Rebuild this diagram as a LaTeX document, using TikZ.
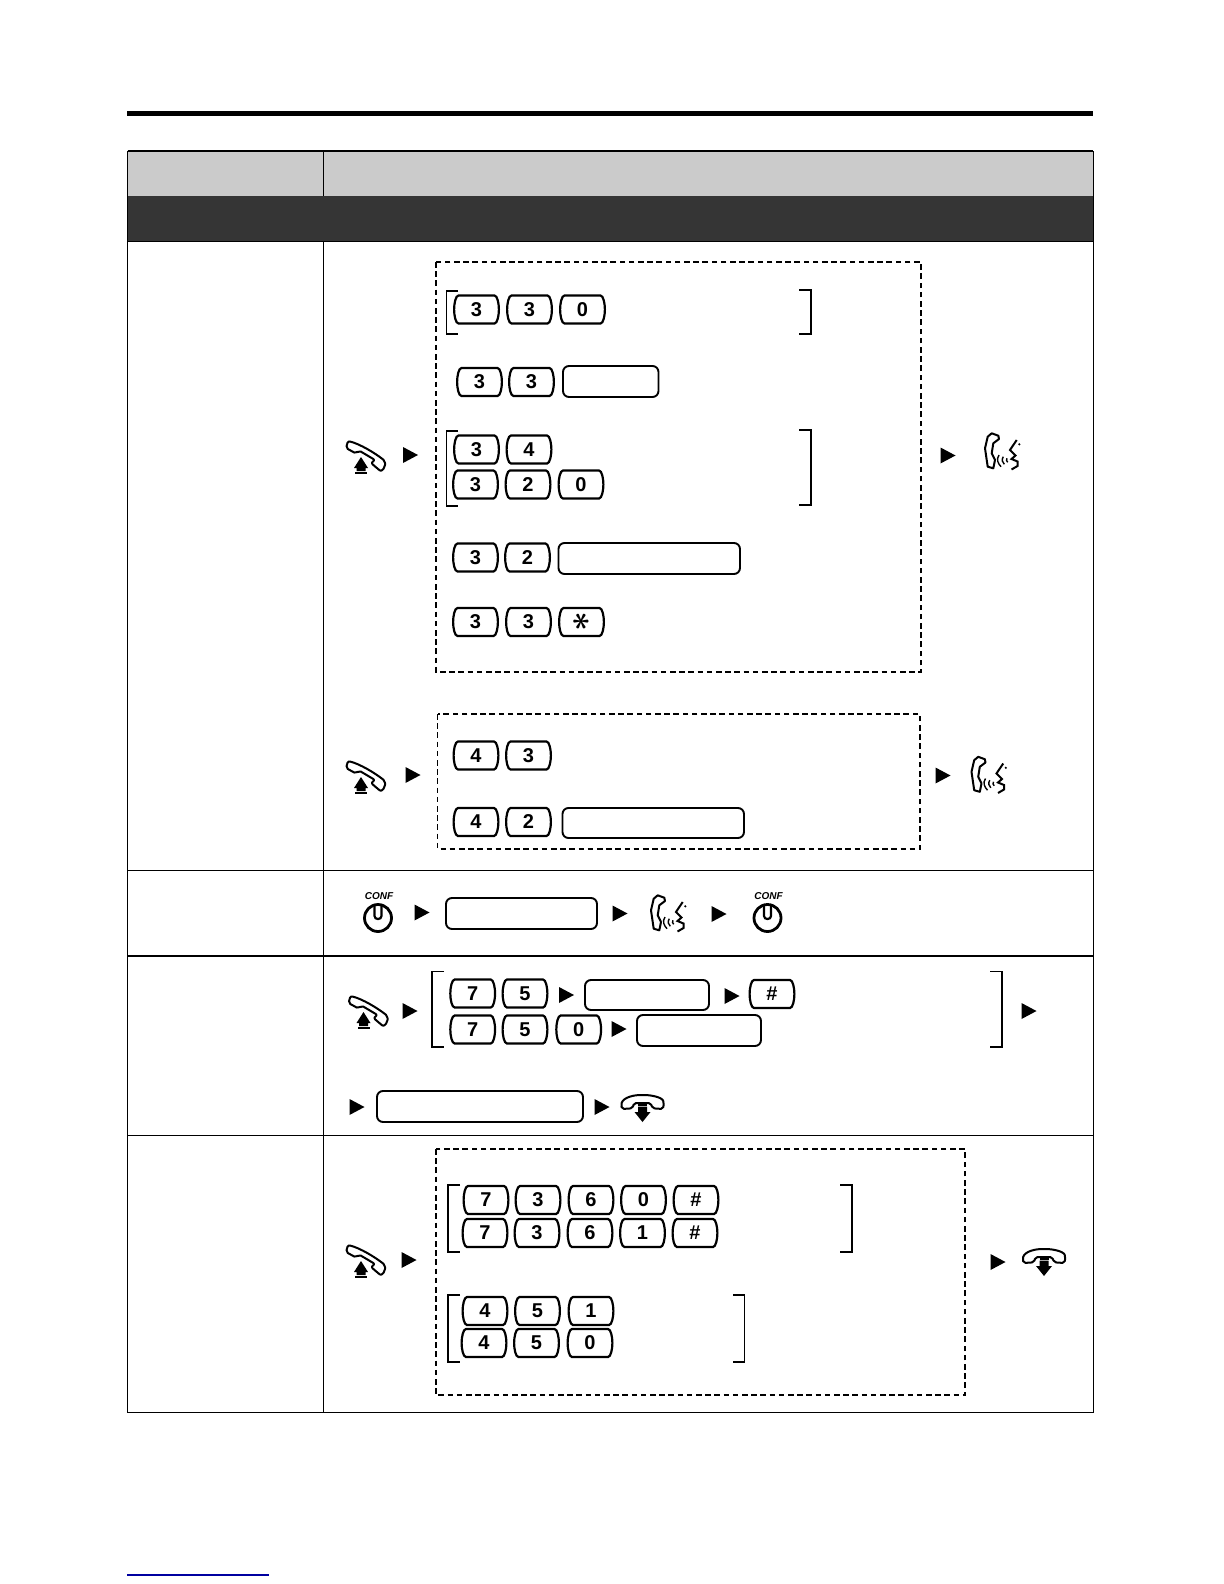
\documentclass[tikz,border=0pt]{standalone}
\usepackage{fontspec}
\setmainfont{Liberation Sans}
\usepackage{graphicx}
\usepackage{xcolor}
\definecolor{headgrey}{HTML}{CBCBCB}
\definecolor{bandgrey}{HTML}{353535}
\definecolor{linkblue}{HTML}{0000A0}
\newcommand{\keycap}[4]{%
  \node[keylabel] (#1) at (#2,#3) {#4};
  \draw[keyline] ([xshift=-9pt,yshift=7pt]#1.center) -- ([xshift=9pt,yshift=7pt]#1.center)
    .. controls ([xshift=10.4pt,yshift=7pt]#1.center) and ([xshift=11.2pt,yshift=3pt]#1.center) .. ([xshift=11.2pt]#1.center)
    .. controls ([xshift=11.2pt,yshift=-3pt]#1.center) and ([xshift=10.4pt,yshift=-7pt]#1.center) .. ([xshift=9pt,yshift=-7pt]#1.center)
    -- ([xshift=-9pt,yshift=-7pt]#1.center)
    .. controls ([xshift=-10.4pt,yshift=-7pt]#1.center) and ([xshift=-11.2pt,yshift=-3pt]#1.center) .. ([xshift=-11.2pt]#1.center)
    .. controls ([xshift=-11.2pt,yshift=3pt]#1.center) and ([xshift=-10.4pt,yshift=7pt]#1.center) .. cycle;}
\newcommand{\starmark}{\rotatebox{90}{\fontsize{17}{17}\selectfont\boldmath$\ast$}}
\begin{document}
\begin{tikzpicture}[x=.5pt,y=-.5pt,
  keyline/.style={line width=1.1pt},
  keylabel/.style={inner sep=0pt,font=\fontsize{10}{10}\selectfont\bfseries},
  slot/.style={line width=.95pt,rounded corners=3pt},
  bracket/.style={line width=.55pt},
  rule/.style={line width=.5pt},
  dashbox/.style={line width=.8pt,dash pattern=on 2.8pt off 1.8pt},
  go/.pic={\fill (-7.5,-8) -- (7.5,0) -- (-7.5,8) -- cycle;},
  lifted/.pic={
    \draw[line width=1pt,rounded corners=1pt,line join=round] (-17,-16) .. controls (-5,-13) and (10,-4) .. (20,4) -- (20,10) -- (16,14.5) -- (6,6) -- (10,3) -- (-6,-6.5) -- (-9,-3.5) -- (-19,-9) -- cycle;
    \fill (-4,0) -- (3,11) -- (0.5,11) -- (0.5,14) -- (-8.5,14) -- (-8.5,11) -- (-11,11) -- cycle;
    \fill (-10,15) rectangle (2,16.5);},
  hungup/.pic={
    \draw[line width=1pt,rounded corners=1pt,line join=round] (-21.5,-2) .. controls (-19,-10) and (-8,-12) .. (0,-12) .. controls (8,-12) and (19,-10) .. (21.5,-4.5) -- (20.5,2) -- (10,1.3) -- (8.2,-4) -- (-8.5,-4) -- (-10,1.3) -- (-20.5,2) -- cycle;
    \fill (-4.5,-3) rectangle (4.5,-1.5);
    \fill (-8,5) -- (-4.5,5) -- (-4.5,-.5) -- (4.5,-.5) -- (4.5,5) -- (8,5) -- (0,15) -- cycle;},
  talking/.pic={
    \draw[line width=1pt,line join=round] (-10.8,-18.2) -- (-4.2,-15.8) -- (-3.5,-12.5) -- (-9.2,-8.2) -- (-10.8,1.8) -- (-7.5,8.5) -- (-9.2,16.8) -- (-14.8,15.2) -- (-17.5,-3.2) -- (-14.8,-14.8) -- cycle;
    \draw[line width=.7pt] (-3.5,3.5) .. controls (-6.5,8) and (-4.5,12) .. (-1.5,15.2);
    \draw[line width=.7pt] (0.8,5.2) .. controls (-1,8) and (-0.5,11) .. (1.8,12.8);
    \draw[line width=.7pt] (4.5,6.8) .. controls (3.6,8) and (3.8,10) .. (5.2,10.8);
    \draw[line width=1pt] (14.2,-11.5) -- (7.5,-1.5) -- (13,4) -- (9,7.5) -- (15,10) -- (15,14.5) -- (9,18);
    \fill (16.8,-7.2) circle (1.2);},
  confbutton/.pic={
    \draw[line width=1.4pt] (0,0) circle (13.5);
    \draw[line width=1.1pt] (-3.5,-13.5) -- (-3.5,-2) .. controls (-3.5,2) and (3.5,2) .. (3.5,-2) -- (3.5,-13.5);
    \node[font=\fontsize{5}{5}\selectfont\bfseries\itshape,inner sep=0pt] (-conftext) at (1,-21.5) {CONF};}]
\useasboundingbox (0,0) rectangle (1224,1584);
\fill[white] (0,0) rectangle (1224,1584);
% ---- table grid
\def\xa{127.5} \def\xb{323} \def\xc{1093}
\def\ya{151} \def\yb{196} \def\yc{241} \def\yd{870} \def\ye{956} \def\yf{1135} \def\yg{1412}
\fill[black] (127,111) rectangle (1093,116);
\fill[headgrey] (\xa,\ya) rectangle (\xc,\yb);
\fill[bandgrey] (\xa,\yb) rectangle (\xc,\yc);
\draw[rule] (\xa,\ya) rectangle (\xc,\yg);
\draw[line width=1pt] (\xa,\ya) -- (\xc,\ya);
\draw[rule] (\xb,\ya) -- (\xb,\yb);
\draw[rule] (\xb,\yc) -- (\xb,\yg);
\draw[rule] (\xa,\yc) -- (\xc,\yc);
\draw[rule] (\xa,\yd) -- (\xc,\yd);
\draw[line width=1.1pt] (\xa,\ye) -- (\xc,\ye);
\draw[rule] (\xa,\yf) -- (\xc,\yf);
\draw[linkblue,line width=.6pt] (127,1575) -- (269,1575);
% ---- dashed frames
\draw[dashbox] (436,262) rectangle (921,672);
\draw[dashbox,line width=.6pt] (437.5,714) rectangle (920,849);
\draw[dashbox,line width=.6pt] (436,1149) rectangle (965,1395);
% ---- brackets
\draw[bracket] (458,291) -| (446.5,334) -- (458,334);
\draw[bracket] (799,290) -| (811,334) -- (799,334);
\draw[bracket] (458,431) -| (446.5,506) -- (458,506);
\draw[bracket] (799,430) -| (811,505) -- (799,505);
\draw[bracket] (444,971.5) -| (432,1047) -- (444,1047);
\draw[bracket] (990,971.5) -| (1002,1047) -- (990,1047);
\draw[bracket] (460,1185) -| (448,1252) -- (460,1252);
\draw[bracket] (840,1185) -| (852,1252) -- (840,1252);
\draw[bracket] (460,1295) -| (448,1362) -- (460,1362);
\draw[bracket] (733,1295) -| (744.5,1362) -- (733,1362);
% ---- keys
\foreach \kname/\kx/\ky/\klabel in {
  ka/476.5/309.5/3, kb/529.5/309.5/3, kc/582.5/309.5/0,
  kd/479.5/382/3, ke/531.5/382/3,
  kf/476.5/449.5/3, kg/529/449.5/4,
  kh/475.5/484.5/3, ki/528/484.5/2, kj/581/484.5/0,
  kk/475.5/557.5/3, kl/527.5/557.5/2,
  km/475.5/622/3, kn/528.5/622/3, ko/581.5/622/\starmark,
  kp/476/755.5/4, kq/528.5/755.5/3,
  kr/476/822/4, ks/528.5/822/2,
  kt/472.7/993.5/7, ku/525/993.5/5, kv/772/994/\#,
  kw/472.7/1029.5/7, kx/525/1029.5/5, ky/578.7/1029.5/0,
  la/486/1200/7, lb/538/1200/3, lc/591/1200/6, ld/643.5/1200/0, le/696/1200/\#,
  lf/485/1233/7, lg/537/1233/3, lh/590/1233/6, li/642.5/1233/1, lj/695/1233/\#,
  lk/485/1311/4, ll/537.5/1311/5, lm/591/1311/1,
  ln/484/1343/4, lo/536.5/1343/5, lp/590/1343/0}
  {\keycap{\kname}{\kx}{\ky}{\klabel}}
% ---- empty entry boxes
\draw[slot] (563,366) rectangle (658.5,397);
\draw[slot] (558.5,543) rectangle (740,574);
\draw[slot] (562.5,808) rectangle (744,838);
\draw[slot] (446,898) rectangle (597,929);
\draw[slot] (585,980) rectangle (709,1010);
\draw[slot] (637,1015) rectangle (761,1046);
\draw[slot] (377,1091) rectangle (583,1122);
% ---- arrows between steps
\foreach \ax/\ay in {410.5/455, 948/455.5, 413/775, 943/775.5, 422/912.5, 620/913.5, 719/914,
  410/1011, 566.5/995, 732/996, 1029/1011, 619/1029, 357/1107, 602/1107, 409/1260, 998/1262}
  {\pic at (\ax,\ay) {go};}
% ---- handsets and buttons
\pic at (365,457) {lifted};
\pic at (365,777) {lifted};
\pic at (367.5,1012) {lifted};
\pic at (365,1261) {lifted};
\pic at (642.5,1107) {hungup};
\pic at (1044,1261) {hungup};
\pic at (1002.5,451.5) {talking};
\pic at (989,775) {talking};
\pic at (668.5,913.5) {talking};
\pic (confa) at (378,918) {confbutton};
\pic (confb) at (767.5,918) {confbutton};
\end{tikzpicture}
\end{document}
